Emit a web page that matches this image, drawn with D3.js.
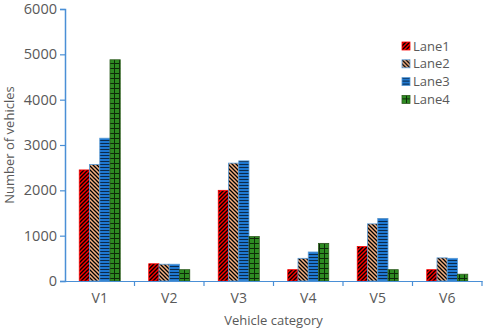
<!DOCTYPE html>
<html>
<head>
<meta charset="utf-8">
<script src="https://cdn.jsdelivr.net/npm/d3@7"></script>
<style>
  body { margin: 0; background: #fff; }
  text { font-family: "Open Sans", "Liberation Sans", sans-serif; fill: #595959; }
</style>
</head>
<body>
<div id="wrapper"></div>
<script>
// data
const categories = ["V1", "V2", "V3", "V4", "V5", "V6"]
const lanes = ["Lane1", "Lane2", "Lane3", "Lane4"]
const lane1 = [2450, 380, 2000, 250, 760, 250]
const lane2 = [2570, 370, 2600, 500, 1260, 510]
const lane3 = [3150, 370, 2650, 640, 1380, 500]
const lane4 = [4880, 250, 980, 830, 250, 150]
const yTicks = [0, 1000, 2000, 3000, 4000, 5000, 6000]

const series = [lane1, lane2, lane3, lane4]
const rows = []
categories.forEach((c, i) => {
  lanes.forEach((l, j) => rows.push({ category: c, lane: l, value: series[j][i] }))
})

const dimensions = {
  width: 484,
  height: 331,
  margin: { top: 9, right: 2, bottom: 50, left: 65 },
}
dimensions.boundedWidth = dimensions.width - dimensions.margin.left - dimensions.margin.right
dimensions.boundedHeight = dimensions.height - dimensions.margin.top - dimensions.margin.bottom

const svg = d3.select("#wrapper").append("svg")
  .attr("width", dimensions.width)
  .attr("height", dimensions.height)

// patterns for each lane
const defs = svg.append("defs")
function addPattern(id, bg, size, drawFn) {
  const p = defs.append("pattern")
    .attr("id", id)
    .attr("patternUnits", "userSpaceOnUse")
    .attr("width", size).attr("height", size)
  p.append("rect").attr("width", size).attr("height", size).attr("fill", bg)
  drawFn(p)
}
addPattern("p1", "#ff0000", 4, p => {
  p.append("path").attr("d", "M-1,1 l2,-2 M0,4 l4,-4 M3,5 l2,-2")
    .attr("stroke", "#000").attr("stroke-width", 1.4)
})
addPattern("p2", "#f4b183", 4, p => {
  p.append("path").attr("d", "M-1,3 l2,2 M0,0 l4,4 M3,-1 l2,2")
    .attr("stroke", "#000").attr("stroke-width", 1.3)
})
addPattern("p3", "#1f78d1", 3, p => {
  p.append("path").attr("d", "M0,2.5 h3").attr("stroke", "#0b2a4a").attr("stroke-width", 1)
})
addPattern("p4", "#2e8b22", 5, p => {
  p.append("path").attr("d", "M0,4.5 h5 M4.5,0 v5").attr("stroke", "#0d2a08").attr("stroke-width", 1)
})
const fills = ["url(#p1)", "url(#p2)", "url(#p3)", "url(#p4)"]
const strokes = ["#ff0000", "#5b9bd5", "#5b9bd5", "#2e5d1e"]

const bounds = svg.append("g")
  .attr("transform", `translate(${dimensions.margin.left},${dimensions.margin.top})`)

// scales
const xScale = d3.scaleBand()
  .domain(categories)
  .range([0, dimensions.boundedWidth])
  .paddingInner(0.41)
  .paddingOuter(0.205)
const x0 = d3.scaleBand().domain(categories).range([0, dimensions.boundedWidth])
const laneScale = d3.scaleBand()
  .domain(lanes)
  .range([0, xScale.bandwidth()])
const yScale = d3.scaleLinear()
  .domain([0, 6000])
  .range([dimensions.boundedHeight, 0])

// bars
bounds.append("g").selectAll("rect")
  .data(rows)
  .join("rect")
    .attr("x", d => xScale(d.category) + laneScale(d.lane))
    .attr("y", d => yScale(d.value))
    .attr("width", laneScale.bandwidth())
    .attr("height", d => yScale(0) - yScale(d.value))
    .attr("fill", d => fills[lanes.indexOf(d.lane)])
    .attr("stroke", d => strokes[lanes.indexOf(d.lane)])
    .attr("stroke-width", 0.8)

// axes
const axisColor = "#4a8fd6"
const yAxis = bounds.append("g")
  .call(d3.axisLeft(yScale).tickValues(yTicks).tickFormat(d3.format("d")).tickSize(5).tickPadding(3))
yAxis.select(".domain").attr("stroke", axisColor).attr("stroke-width", 1.5)
yAxis.selectAll(".tick line").attr("stroke", axisColor).attr("stroke-width", 1.2)
yAxis.selectAll(".tick text").attr("fill", "#595959").style("font-size", "14.5px")

const xAxis = bounds.append("g")
  .attr("transform", `translate(0,${dimensions.boundedHeight})`)
  .call(d3.axisBottom(x0).tickSize(0).tickPadding(12))
xAxis.select(".domain").attr("stroke", axisColor).attr("stroke-width", 1.2)
xAxis.selectAll(".tick text").attr("fill", "#595959").style("font-size", "14px")
// boundary ticks between categories
xAxis.append("g").selectAll("line")
  .data(categories.slice(1).concat(["end"]))
  .join("line")
    .attr("x1", (d, i) => x0.step() * (i + 1))
    .attr("x2", (d, i) => x0.step() * (i + 1))
    .attr("y1", 0).attr("y2", 5)
    .attr("stroke", axisColor).attr("stroke-width", 1.2)

// axis titles
svg.append("text")
  .attr("transform", `translate(14,${dimensions.margin.top + dimensions.boundedHeight / 2}) rotate(-90)`)
  .attr("text-anchor", "middle")
  .style("font-size", "13px")
  .text("Number of vehicles")
svg.append("text")
  .attr("x", dimensions.margin.left + dimensions.boundedWidth / 2)
  .attr("y", 325)
  .attr("text-anchor", "middle")
  .style("font-size", "13px")
  .text("Vehicle category")

// legend
const legend = svg.append("g").attr("transform", "translate(402,46)")
const items = legend.selectAll("g")
  .data(lanes)
  .join("g")
    .attr("transform", (d, i) => `translate(0,${i * 17.8})`)
items.append("rect")
  .attr("x", 0).attr("y", -4)
  .attr("width", 8).attr("height", 8)
  .attr("fill", (d, i) => fills[i])
  .attr("stroke", (d, i) => strokes[i])
  .attr("stroke-width", 0.8)
items.append("text")
  .attr("x", 11).attr("y", 0)
  .attr("dy", "0.35em")
  .style("font-size", "13px")
  .text(d => d)
</script>
</body>
</html>
